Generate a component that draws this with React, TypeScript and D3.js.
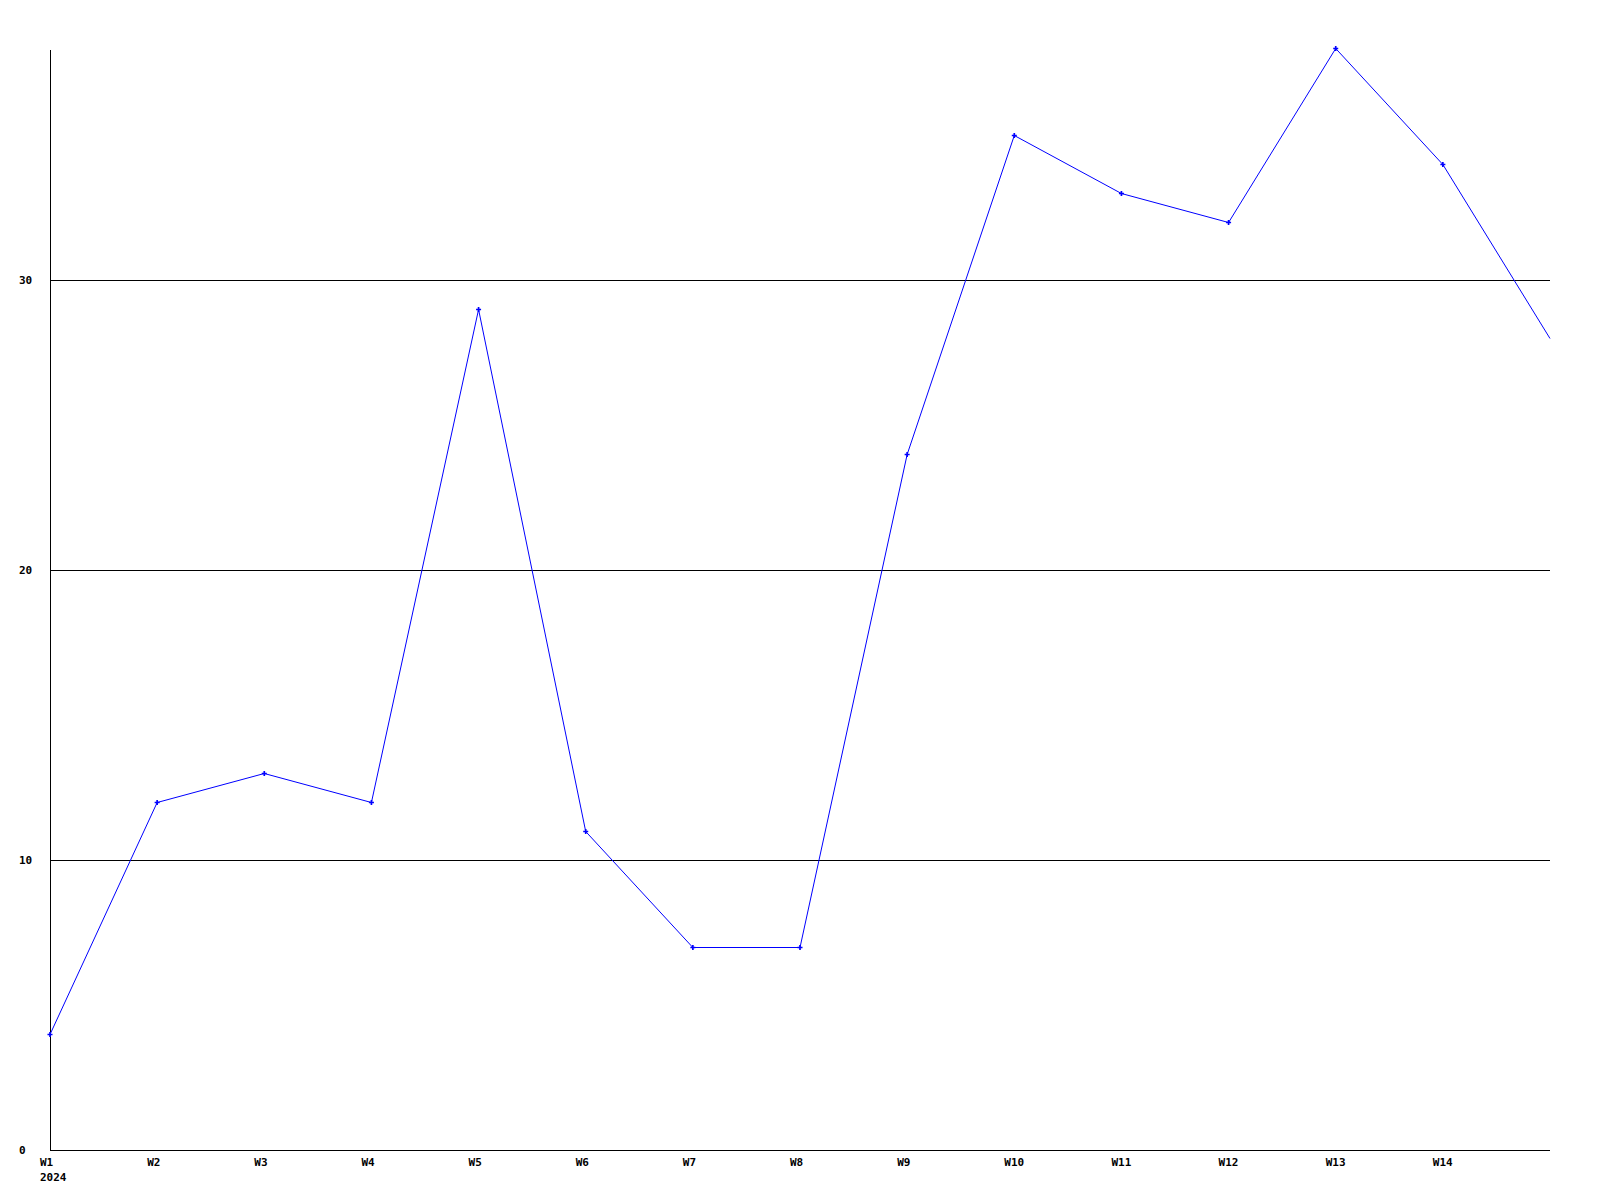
import React from "react";
import * as d3 from "d3";

const weeks = ["W1","W2","W3","W4","W5","W6","W7","W8","W9","W10","W11","W12","W13","W14","W15"];
const tickLabels = ["W1","W2","W3","W4","W5","W6","W7","W8","W9","W10","W11","W12","W13","W14"];
const values = [4, 12, 13, 12, 29, 11, 7, 7, 24, 35, 33, 32, 38, 34, 28];
const yTicks = [0, 10, 20, 30];
const yearLabel = "2024";

const W = 1600, H = 1200;
const left = 50, right = 1550, top = 48, bottom = 1150;

export default function App() {
  const x = d3.scalePoint<string>().domain(weeks).range([left, right]);
  const y = d3.scaleLinear().domain([0, 38]).range([bottom, top]);
  const line = d3.line<number>().x((_, i) => x(weeks[i])!).y((d) => y(d) + 0.5);
  const font = "'DejaVu Sans Mono', monospace";
  const snap = (v: number) => Math.floor(v) + 0.5;
  return (
    <svg width={W} height={H} style={{ position: "absolute", left: 0, top: 0, background: "#fff" }}>
      <rect x={0} y={0} width={W} height={H} fill="#fff" />
      {yTicks.filter((t) => t > 0).map((t) => (
        <line key={t} x1={left} x2={right} y1={snap(y(t))} y2={snap(y(t))} stroke="#000" strokeWidth={1} shapeRendering="crispEdges" />
      ))}
      <line x1={left + 0.5} x2={left + 0.5} y1={50} y2={bottom} stroke="#000" strokeWidth={1} shapeRendering="crispEdges" />
      <line x1={left} x2={right} y1={bottom + 0.5} y2={bottom + 0.5} stroke="#000" strokeWidth={1} shapeRendering="crispEdges" />
      {yTicks.map((t) => (
        <text key={t} x={19} y={y(t) + 0.5} dy="0.35em" fontFamily={font} fontWeight="bold" fontSize={11} fill="#000">{t}</text>
      ))}
      {tickLabels.map((l) => (
        <text key={l} x={x(l)! - 10} y={1166} fontFamily={font} fontWeight="bold" fontSize={11} fill="#000">{l}</text>
      ))}
      <text x={40} y={1181} fontFamily={font} fontWeight="bold" fontSize={11} fill="#000">{yearLabel}</text>
      <path d={line(values) ?? ""} fill="none" stroke="#0000ff" strokeWidth={1} />
      {values.slice(0, tickLabels.length).map((v, i) => (
        <path key={i} transform={`translate(${x(weeks[i])},${y(v) + 0.5})`} d={d3.symbol(d3.symbolCross, 14)() ?? ""} fill="#0000ff" />
      ))}
    </svg>
  );
}
